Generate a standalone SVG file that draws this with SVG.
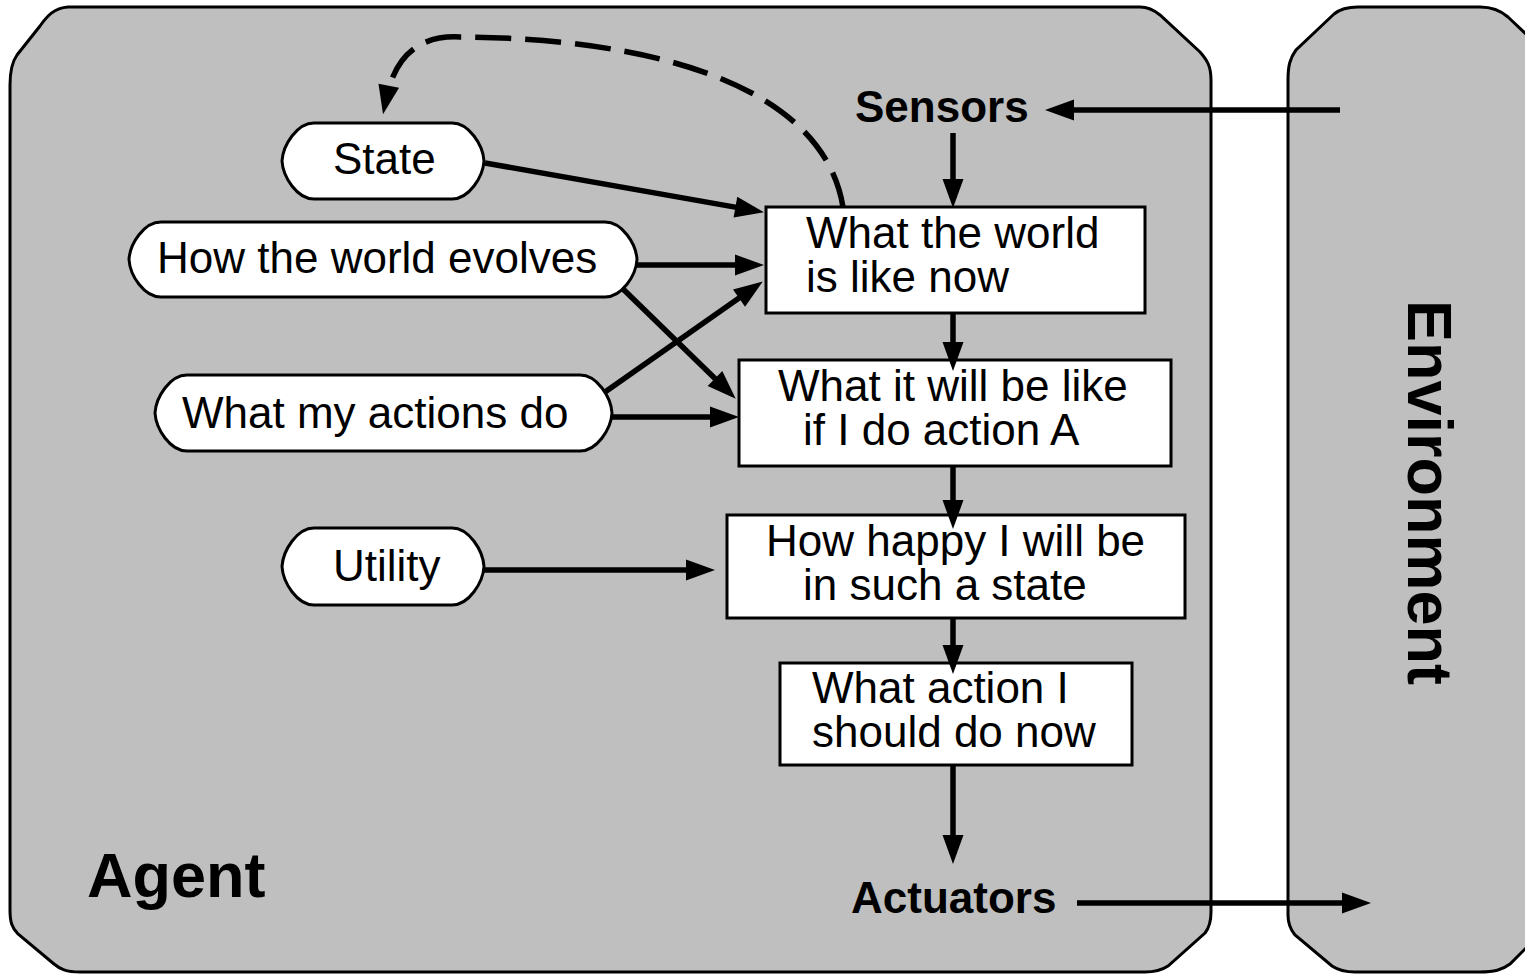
<svg xmlns="http://www.w3.org/2000/svg" width="1525" height="976" viewBox="0 0 1525 976">
<style>
.frame{fill:#bfbfbf;stroke:#000;stroke-width:3}
.pill{fill:#fff;stroke:#000;stroke-width:3}
.box{fill:#fff;stroke:#000;stroke-width:3}
.t{font-family:"Liberation Sans",Arial,sans-serif;font-size:44px;fill:#000}
.b{font-family:"Liberation Sans",Arial,sans-serif;font-weight:bold;font-size:44px;fill:#000}
.big{font-family:"Liberation Sans",Arial,sans-serif;font-weight:bold;font-size:63px;fill:#000}
.arr{fill:none;stroke:#000;stroke-width:5.5;marker-end:url(#ah)}
.dash{fill:none;stroke:#000;stroke-width:5.5;stroke-dasharray:36 14;marker-end:url(#ah)}
</style>
<defs>
<marker id="ah" markerUnits="userSpaceOnUse" markerWidth="30" markerHeight="22" refX="14" refY="10.5" orient="auto" overflow="visible">
<path d="M0,0 L29,10.5 L0,21 Z" fill="#000"/>
</marker>
</defs>
<rect width="1525" height="976" fill="#fff"/>
<g id="agent">
<path class="frame" d="M10,85 C10,70 12,62 17,55 L40,26 C47,16 54,8 68,7 H1140 C1148,7 1154,10 1160,15 L1200,52 C1207,60 1211,66 1211,80 V912 C1211,922 1209,928 1205,933 L1168,966 C1162,970 1156,972 1145,972 H80 C66,972 60,969 54,964 L18,934 C12,928 10,922 10,910 Z"/>
<text class="big" x="87" y="897">Agent</text>
</g>
<g id="environment">
<path class="frame" d="M1288,80 C1288,66 1290,58 1296,50 L1334,14 C1340,9 1347,7 1358,7 H1480 C1492,7 1500,10 1508,17 L1550,57 C1556,63 1560,70 1560,85 V905 C1560,915 1556,920 1550,924 L1510,964 C1502,970 1494,972 1480,972 H1355 C1344,972 1338,970 1332,966 L1295,935 C1290,929 1288,924 1288,915 Z"/>
<text class="big" transform="translate(1408,300) rotate(90)">Environment</text>
</g>
<g id="sensors"><text class="b" x="855" y="122">Sensors</text></g>
<g id="actuators"><text class="b" x="851" y="913">Actuators</text></g>
<g id="state">
<path class="pill" d="M314,123 H452 C469,123 483,145 484,161 C483,177 469,199 452,199 H314 C297,199 283,177 282,161 C283,145 297,123 314,123 Z"/>
<text class="t" x="333" y="174">State</text>
</g>
<g id="evolves">
<path class="pill" d="M161,222 H605 C622,222 636,243.5 637,259.5 C636,275.5 622,297 605,297 H161 C144,297 130,275.5 129,259.5 C130,243.5 144,222 161,222 Z"/>
<text class="t" x="157" y="273">How the world evolves</text>
</g>
<g id="actions">
<path class="pill" d="M187,375 H580 C597,375 611,397 612,413 C611,429 597,451 580,451 H187 C170,451 156,429 155,413 C156,397 170,375 187,375 Z"/>
<text class="t" x="182" y="428">What my actions do</text>
</g>
<g id="utility">
<path class="pill" d="M314,528 H452 C469,528 483,550.5 484,566.5 C483,582.5 469,605 452,605 H314 C297,605 283,582.5 282,566.5 C283,550.5 297,528 314,528 Z"/>
<text class="t" x="333" y="581">Utility</text>
</g>
<g id="world-now">
<rect class="box" x="766" y="207" width="379" height="106"/>
<text class="t"><tspan x="806" y="248">What the world</tspan><tspan x="806" y="292">is like now</tspan></text>
</g>
<g id="will-be">
<rect class="box" x="739" y="360" width="432" height="106"/>
<text class="t"><tspan x="778" y="401">What it will be like</tspan><tspan x="803" y="445">if I do action A</tspan></text>
</g>
<g id="happy">
<rect class="box" x="727" y="515" width="458" height="103"/>
<text class="t"><tspan x="766" y="556">How happy I will be</tspan><tspan x="803" y="600">in such a state</tspan></text>
</g>
<g id="action-now">
<rect class="box" x="780" y="663" width="352" height="102"/>
<text class="t"><tspan x="812" y="703">What action I</tspan><tspan x="812" y="747">should do now</tspan></text>
</g>
<g id="connectors">
<path class="arr" d="M1340,110 H1060"/>
<path class="arr" d="M953,133 V193"/>
<path class="arr" d="M953,313 V356"/>
<path class="arr" d="M953,466 V514"/>
<path class="arr" d="M953,618 V659"/>
<path class="arr" d="M953,765 V849"/>
<path class="arr" d="M1077,903 H1356"/>
<path class="arr" d="M485,163 L749.2,209.6"/>
<path class="arr" d="M637,265 H749"/>
<path class="arr" d="M622,288 L725,388.2"/>
<path class="arr" d="M605,392 L750.5,290"/>
<path class="arr" d="M612,417 H724"/>
<path class="arr" d="M484,570 H700"/>
<path class="dash" d="M843,207 C822,80 640,38 460,37 C420,35 395,55 386,99.5"/>
</g>
</svg>
